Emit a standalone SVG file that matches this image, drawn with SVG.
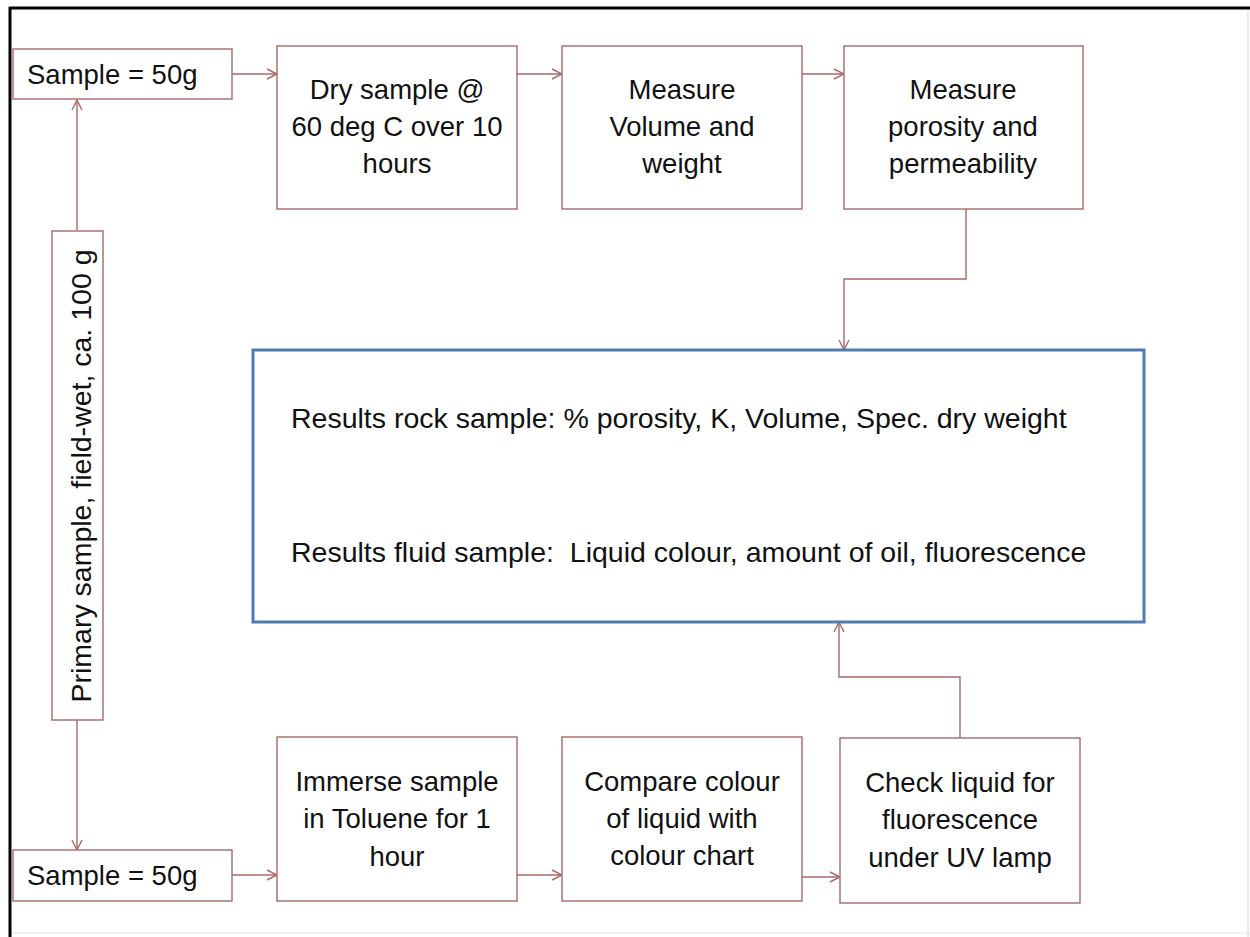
<svg xmlns="http://www.w3.org/2000/svg" width="1250" height="937" viewBox="0 0 1250 937">
<style>
.box{fill:#ffffff;stroke:#a86868;stroke-width:1.4}
.res{fill:#ffffff;stroke:#4f7cb0;stroke-width:3}
.t{font-family:"Liberation Sans",Arial,sans-serif;font-size:27.5px;fill:#111111}
.big{font-size:28.5px}
.c{text-anchor:middle}
.con{fill:none;stroke:#a86868;stroke-width:1.4}
</style>
<defs>
<marker id="ah" markerWidth="12" markerHeight="12" refX="11" refY="6" orient="auto" markerUnits="userSpaceOnUse">
<path d="M1,1 L11,6 L1,11" fill="none" stroke="#a86868" stroke-width="1.4"/>
</marker>
</defs>
<rect width="1250" height="937" fill="#ffffff"/>
<g id="frame">
<line x1="1248" y1="8" x2="1248" y2="937" stroke="#e4e4e4" stroke-width="1.5"/>
<line x1="10" y1="933" x2="1250" y2="933" stroke="#eeeeee" stroke-width="1.5"/>
<line x1="9" y1="8" x2="1250" y2="8" stroke="#000000" stroke-width="3"/>
<line x1="10" y1="7" x2="10" y2="937" stroke="#000000" stroke-width="3"/>
</g>
<g id="connectors">
<polyline class="con" points="77,230 77,100" marker-end="url(#ah)"/>
<polyline class="con" points="77,720 77,850" marker-end="url(#ah)"/>
<polyline class="con" points="232,74 277,74" marker-end="url(#ah)"/>
<polyline class="con" points="517,74 562,74" marker-end="url(#ah)"/>
<polyline class="con" points="802,74 844,74" marker-end="url(#ah)"/>
<polyline class="con" points="966,209 966,279 844,279 844,350" marker-end="url(#ah)"/>
<polyline class="con" points="232,875 277,875" marker-end="url(#ah)"/>
<polyline class="con" points="517,875 562,875" marker-end="url(#ah)"/>
<polyline class="con" points="802,877 840,877" marker-end="url(#ah)"/>
<polyline class="con" points="960,738 960,677 839,677 839,622" marker-end="url(#ah)"/>
</g>
<g id="sample-top">
<rect class="box" x="13" y="49" width="219" height="50"/>
<text class="t" x="27" y="84">Sample = 50g</text>
</g>
<g id="dry">
<rect class="box" x="277" y="46" width="240" height="163"/>
<text class="t c" x="397" y="99">Dry sample @</text>
<text class="t c" x="397" y="136">60 deg C over 10</text>
<text class="t c" x="397" y="173">hours</text>
</g>
<g id="measure-volume">
<rect class="box" x="562" y="46" width="240" height="163"/>
<text class="t c" x="682" y="99">Measure</text>
<text class="t c" x="682" y="136">Volume and</text>
<text class="t c" x="682" y="173">weight</text>
</g>
<g id="measure-porosity">
<rect class="box" x="844" y="46" width="239" height="163"/>
<text class="t c" x="963" y="99">Measure</text>
<text class="t c" x="963" y="136">porosity and</text>
<text class="t c" x="963" y="173">permeability</text>
</g>
<g id="primary">
<rect class="box" x="52" y="231" width="51" height="489"/>
<text class="t big c" transform="translate(91,476) rotate(-90)">Primary sample, field-wet, ca. 100 g</text>
</g>
<g id="results">
<rect class="res" x="253" y="350" width="891" height="272"/>
<text class="t big" x="291" y="428">Results rock sample: % porosity, K, Volume, Spec. dry weight</text>
<text class="t big" x="291" y="562" xml:space="preserve">Results fluid sample:  Liquid colour, amount of oil, fluorescence</text>
</g>
<g id="sample-bottom">
<rect class="box" x="13" y="850" width="219" height="51"/>
<text class="t" x="27" y="885">Sample = 50g</text>
</g>
<g id="immerse">
<rect class="box" x="277" y="737" width="240" height="164"/>
<text class="t c" x="397" y="791">Immerse sample</text>
<text class="t c" x="397" y="828">in Toluene for 1</text>
<text class="t c" x="397" y="866">hour</text>
</g>
<g id="compare">
<rect class="box" x="562" y="737" width="240" height="164"/>
<text class="t c" x="682" y="791">Compare colour</text>
<text class="t c" x="682" y="828">of liquid with</text>
<text class="t c" x="682" y="865">colour chart</text>
</g>
<g id="check">
<rect class="box" x="840" y="738" width="240" height="165"/>
<text class="t c" x="960" y="792">Check liquid for</text>
<text class="t c" x="960" y="829">fluorescence</text>
<text class="t c" x="960" y="867">under UV lamp</text>
</g>
</svg>
